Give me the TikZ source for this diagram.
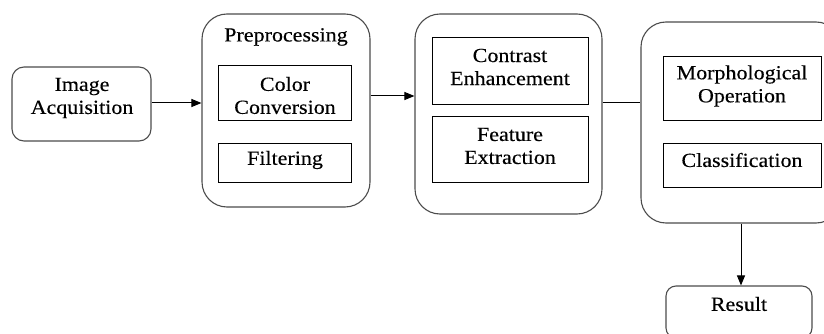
\documentclass[tikz,border=0pt]{standalone}
\usepackage{fontspec}
\setmainfont{Liberation Serif}[FakeStretch=1.1,FakeBold=0.3]
\usetikzlibrary{arrows.meta}
\begin{document}
\begin{tikzpicture}[x=1pt,y=-1pt,
  font=\fontsize{20}{23}\selectfont,
  outer/.style={draw=black!70,line width=1.1pt,rounded corners=#1,inner sep=0pt},
  inner/.style={draw=black,line width=1pt,inner sep=0pt},
  txt/.style={align=center,inner sep=0pt},
  arr/.style={line width=1pt,-{Triangle[length=10pt,width=8pt]}},
  ln/.style={line width=1pt}]
\useasboundingbox (0,0) rectangle (824,334);
\clip (0,0) rectangle (824,334);
% boxes
\node[outer=12pt,minimum width=139pt,minimum height=74pt] (ia) at (81.5,104) {};
\node[outer=25pt,minimum width=168pt,minimum height=193pt] (pre) at (286,110.5) {};
\node[inner,minimum width=133pt,minimum height=55pt] (cc) at (284.5,93.5) {};
\node[inner,minimum width=133pt,minimum height=39pt] (fi) at (284.5,162.5) {};
\node[outer=25pt,minimum width=187pt,minimum height=200pt] (enh) at (508.5,114) {};
\node[inner,minimum width=156pt,minimum height=67pt] (ce) at (510,71.5) {};
\node[inner,minimum width=156pt,minimum height=65pt] (fe) at (510,149.5) {};
\node[outer=25pt,minimum width=200pt,minimum height=201pt] (cl) at (741,122.5) {};
\node[inner,minimum width=158pt,minimum height=64pt] (mo) at (742,89) {};
\node[inner,minimum width=158pt,minimum height=44pt] (cs) at (742,165) {};
\node[outer=10pt,minimum width=146pt,minimum height=52pt] (res) at (739,312) {};
% texts
\node[txt] (tia) at (82,98) {Image\\Acquisition};
\node[txt] (tpl) at (286,37) {Preprocessing};
\node[txt] (tcc) at (285,95.5) {Color\\Conversion};
\node[txt] (tfi) at (285,160) {Filtering};
\node[txt] (tce) at (510,67) {Contrast\\Enhancement};
\node[txt] (tfe) at (510,146) {Feature\\Extraction};
\node[txt] (tmo) at (742,86) {Morphological\\Operation};
\node[txt] (tcs) at (742,160) {Classification};
\node[txt] (trl) at (739,304) {Result};
% connectors
\draw[arr] ([yshift=1pt]ia.east) -- ([yshift=1pt]ia.east -| pre.west);
\draw[arr] ([yshift=14.5pt]pre.east) -- ([yshift=14.5pt]pre.east -| enh.west);
\draw[ln] ([yshift=11pt]enh.east) -- ([yshift=11pt]enh.east -| cl.west);
\draw[arr] (cl.south) -- (cl.south |- res.north);
\end{tikzpicture}
\end{document}
